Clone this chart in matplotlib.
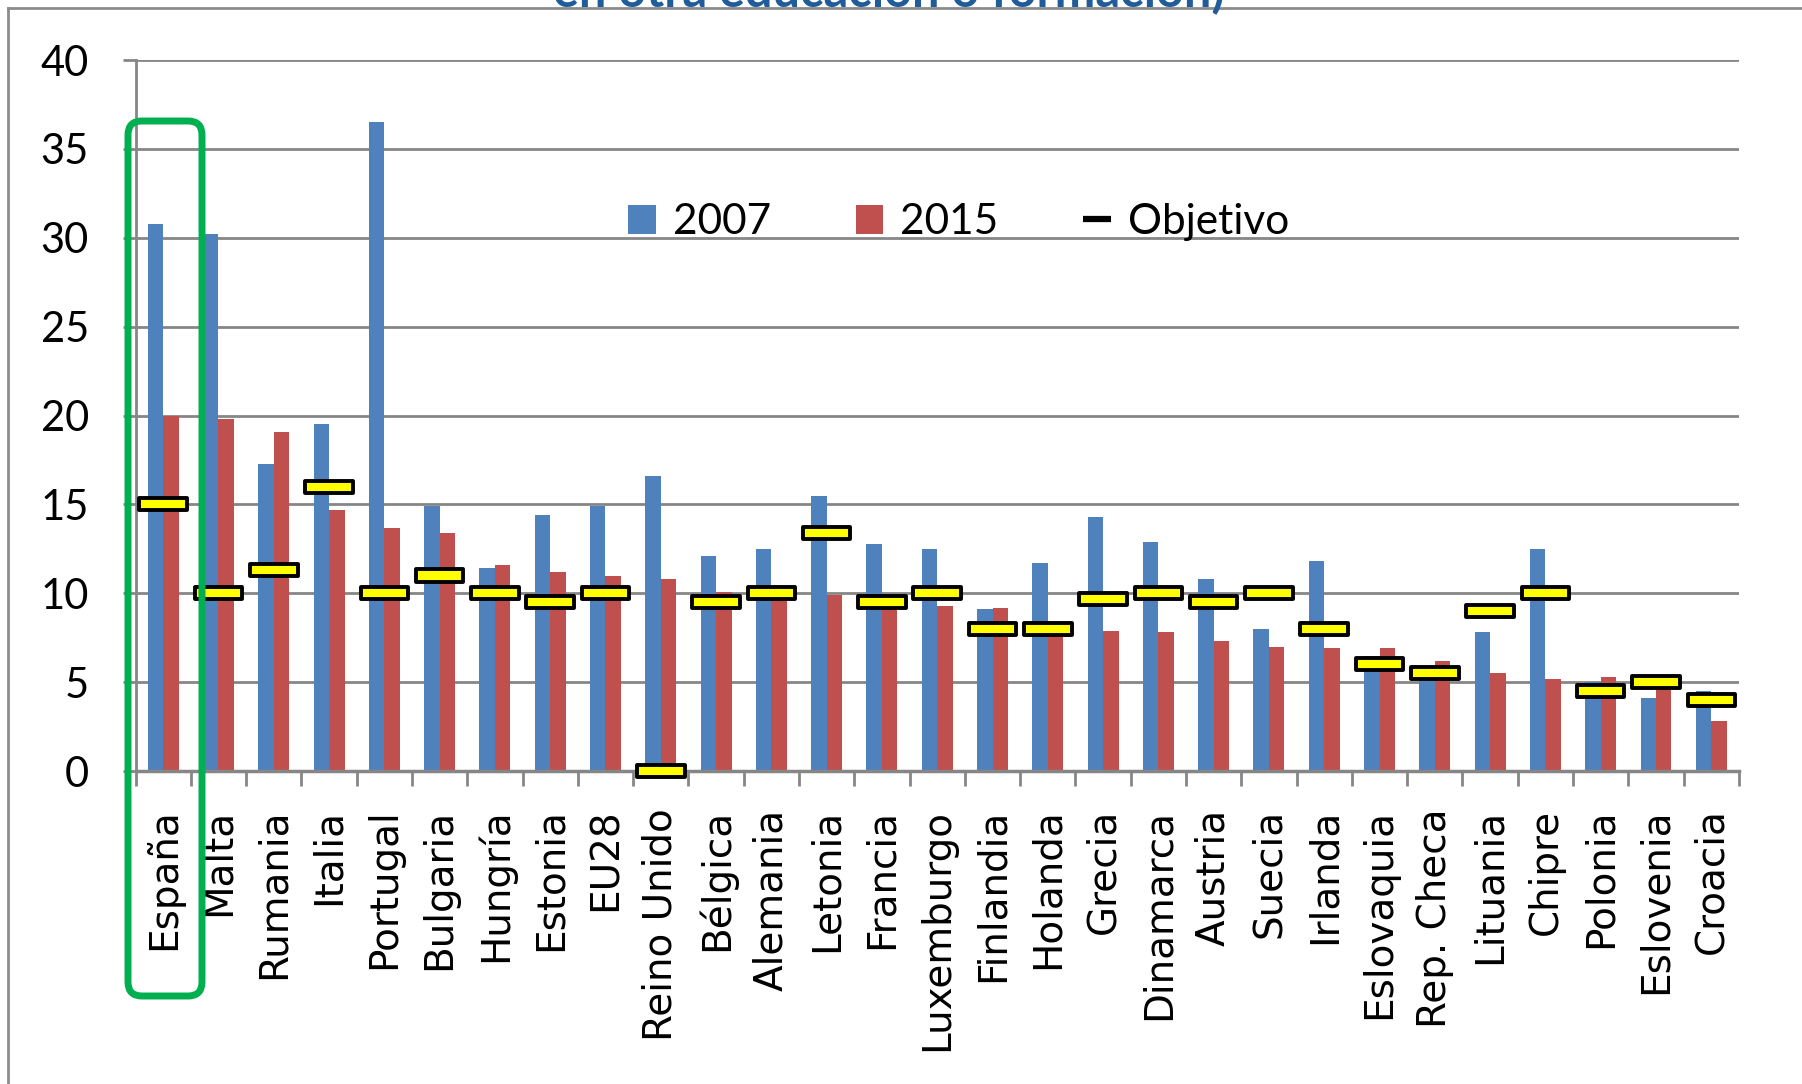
import numpy as np
import matplotlib
matplotlib.use("Agg")
import matplotlib.pyplot as plt
from matplotlib.patches import Patch, FancyBboxPatch
from matplotlib.lines import Line2D
from matplotlib.transforms import IdentityTransform

plt.rcParams['font.family'] = ['Lato', 'DejaVu Sans']

# abandono temprano (%) por país
paises = ['España', 'Malta', 'Rumania', 'Italia', 'Portugal', 'Bulgaria', 'Hungría',
          'Estonia', 'EU28', 'Reino Unido', 'Bélgica', 'Alemania', 'Letonia', 'Francia',
          'Luxemburgo', 'Finlandia', 'Holanda', 'Grecia', 'Dinamarca', 'Austria', 'Suecia',
          'Irlanda', 'Eslovaquia', 'Rep. Checa', 'Lituania', 'Chipre', 'Polonia',
          'Eslovenia', 'Croacia']
v2007 = [30.8, 30.2, 17.3, 19.5, 36.5, 14.9, 11.4, 14.4, 14.9, 16.6, 12.1, 12.5, 15.5, 12.8,
         12.5, 9.1, 11.7, 14.3, 12.9, 10.8, 8.0, 11.8, 6.5, 5.2, 7.8, 12.5, 5.0, 4.1, 4.5]
v2015 = [20.0, 19.8, 19.1, 14.7, 13.7, 13.4, 11.6, 11.2, 11.0, 10.8, 10.1, 10.1, 9.9, 9.3,
         9.3, 9.2, 8.2, 7.9, 7.8, 7.3, 7.0, 6.9, 6.9, 6.2, 5.5, 5.2, 5.3, 5.0, 2.8]
objetivo = [15, 10, 11.3, 16, 10, 11, 10, 9.5, 10, 0, 9.5, 10, 13.4, 9.5,
            10, 8, 8, 9.7, 10, 9.5, 10, 8, 6, 5.5, 9, 10, 4.5, 5, 4]
yticks = [0, 5, 10, 15, 20, 25, 30, 35, 40]

azul = '#4F81BD'
rojo = '#C0504D'
gris = '#868686'

fig = plt.figure(figsize=(18.02, 10.84), dpi=100)
ax = fig.add_axes([0.0752, 0.2887, 0.8898, 0.6559])

x = np.arange(len(paises))
w = 0.28
ax.bar(x - w/2, v2007, w, color=azul, zorder=2)
ax.bar(x + w/2, v2015, w, color=rojo, zorder=2)

# marcas del objetivo (rectangulos amarillos)
h = 0.68
ax.bar(x, h, 0.86, bottom=np.array(objetivo) - h/2, color='#FFFF00',
       edgecolor='black', linewidth=2.8, joinstyle='round', zorder=3, clip_on=False)

ax.set_xlim(-0.5, len(paises) - 0.5)
ax.set_ylim(0, 40)
ax.set_yticks(yticks)
ax.set_xticks(x)
ax.set_xticklabels(paises, rotation=90, fontsize=28, family='DejaVu Sans')
ax.set_xticks(np.arange(len(paises) + 1) - 0.5, minor=True)
ax.tick_params(axis='x', which='major', length=0, pad=27)
ax.tick_params(axis='x', which='minor', length=11, width=2, color=gris)
ax.tick_params(axis='y', length=9.5, width=2, color=gris, labelsize=30, pad=24)
ax.yaxis.grid(True, color=gris, lw=2)
ax.set_axisbelow(True)
for s in ['top', 'right']:
    ax.spines[s].set_visible(False)
ax.spines['left'].set_color(gris)
ax.spines['left'].set_linewidth(2)
ax.spines['bottom'].set_color(gris)
ax.spines['bottom'].set_linewidth(2.5)

handles = [Patch(facecolor=azul), Patch(facecolor=rojo),
           Line2D([], [], color='black', lw=4.5, solid_capstyle='butt')]
fig.legend(handles, ['2007', '2015', 'Objetivo'], loc='center', bbox_to_anchor=(0.532, 0.795),
           ncol=3, frameon=False, fontsize=30.5, handlelength=0.65, handleheight=0.7,
           handletextpad=0.4, columnspacing=2.0)

# titulo cortado arriba
fig.text(0.4935, 1 - 7/1084, 'en otra educación o formación)', ha='center', va='baseline',
         fontsize=35, fontweight='bold', color='#1F5C99')

# marco del grafico
fig.add_artist(Line2D([8/1802, 1], [1 - 8/1084, 1 - 8/1084], color='#8C8C8C', lw=2,
                      transform=fig.transFigure))
fig.add_artist(Line2D([8/1802, 8/1802], [0, 1 - 8/1084], color='#8C8C8C', lw=2,
                      transform=fig.transFigure))

# recuadro verde de España
caja = FancyBboxPatch((128, 88), 74, 875, boxstyle='round,pad=0,rounding_size=14',
                      fill=False, edgecolor='#00B050', lw=5, transform=IdentityTransform())
fig.add_artist(caja)

fig.savefig('out.png', dpi=100)
